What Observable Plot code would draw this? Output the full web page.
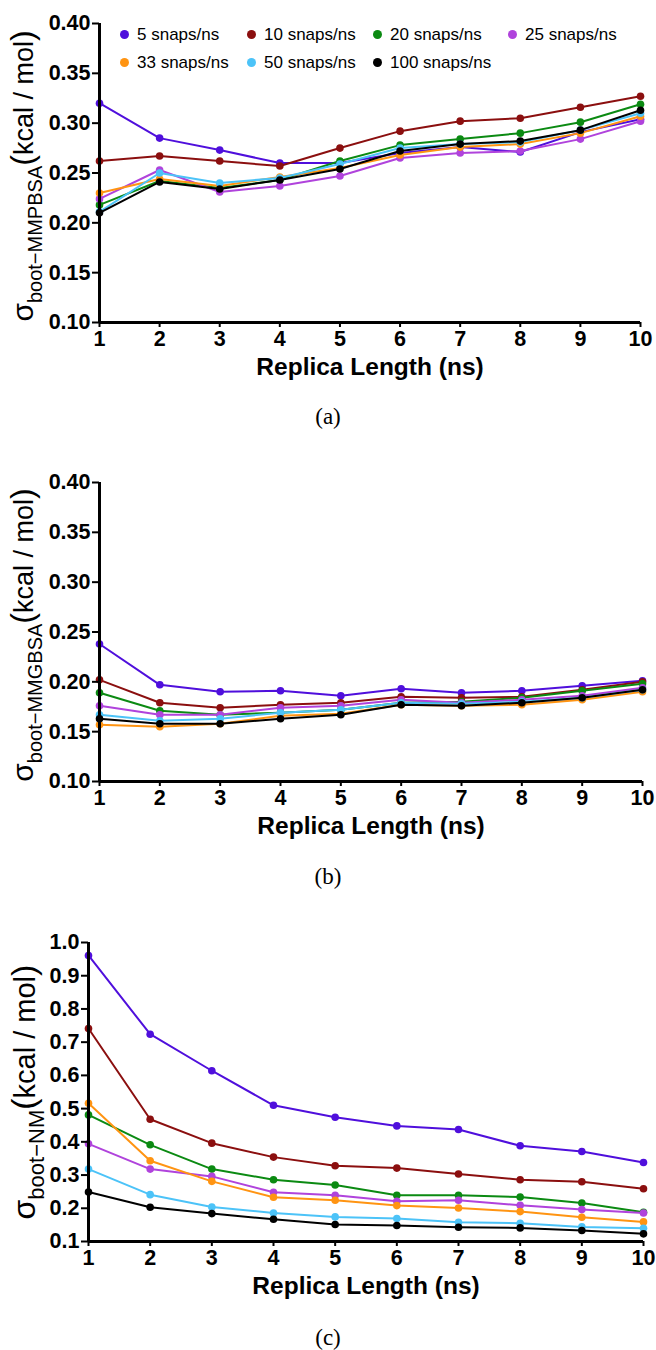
<!DOCTYPE html>
<html><head><meta charset="utf-8">
<script src="https://cdn.jsdelivr.net/npm/d3@7"></script>
<script src="https://cdn.jsdelivr.net/npm/@observablehq/plot@0.6"></script>
<style>
body{margin:0;background:#fff;}
#wrap{position:relative;width:656px;height:1350px;font-family:Arial,"Liberation Sans",Helvetica,sans-serif;background:#fff;overflow:hidden;}
.panel{position:absolute;left:0;}
.cap{position:absolute;left:0;width:656px;text-align:center;font-family:"Times New Roman","Liberation Serif",serif;font-size:23px;line-height:26px;}
.legend{position:absolute;left:120px;top:25px;display:grid;grid-template-columns:127px 126px 135px auto;row-gap:9px;font-size:17px;line-height:19px;}
.item{display:flex;align-items:center;white-space:nowrap;}
.sw{width:9px;height:9px;border-radius:50%;margin-right:8px;flex:none;}
</style></head><body><div id="wrap"></div>
<script>
// categories
const lengths = [1,2,3,4,5,6,7,8,9,10];
const seriesNames = ["5 snaps/ns","10 snaps/ns","20 snaps/ns","25 snaps/ns","33 snaps/ns","50 snaps/ns","100 snaps/ns"];
const colors = ["#4f0fdc","#8b0f0f","#0b8a12","#b043dc","#ff9412","#4cc3f8","#000000"];
const yTicksAB = [0.10,0.15,0.20,0.25,0.30,0.35,0.40];
const yTicksC = [0.1,0.2,0.3,0.4,0.5,0.6,0.7,0.8,0.9,1.0];

// (a) MMPBSA
const pbsa5   = [0.320,0.285,0.273,0.260,0.260,0.270,0.276,0.271,0.291,0.304];
const pbsa10  = [0.262,0.267,0.262,0.257,0.275,0.292,0.302,0.305,0.316,0.327];
const pbsa20  = [0.218,0.242,0.235,0.243,0.262,0.278,0.284,0.290,0.301,0.319];
const pbsa25  = [0.224,0.253,0.231,0.237,0.247,0.265,0.270,0.272,0.284,0.302];
const pbsa33  = [0.230,0.244,0.237,0.246,0.255,0.268,0.276,0.279,0.290,0.307];
const pbsa50  = [0.211,0.250,0.240,0.245,0.259,0.275,0.279,0.281,0.293,0.310];
const pbsa100 = [0.210,0.241,0.234,0.243,0.254,0.272,0.279,0.282,0.293,0.313];

// (b) MMGBSA
const gbsa5   = [0.238,0.197,0.190,0.191,0.186,0.193,0.189,0.191,0.196,0.201];
const gbsa10  = [0.202,0.179,0.174,0.177,0.179,0.185,0.184,0.185,0.192,0.200];
const gbsa20  = [0.189,0.171,0.167,0.169,0.172,0.179,0.180,0.184,0.191,0.198];
const gbsa25  = [0.176,0.167,0.167,0.174,0.176,0.182,0.179,0.182,0.186,0.194];
const gbsa33  = [0.157,0.155,0.158,0.166,0.168,0.177,0.176,0.177,0.182,0.190];
const gbsa50  = [0.167,0.161,0.163,0.169,0.172,0.179,0.178,0.180,0.184,0.192];
const gbsa100 = [0.163,0.158,0.158,0.163,0.167,0.177,0.176,0.179,0.184,0.192];

// (c) NM
const nm5   = [0.961,0.724,0.614,0.510,0.474,0.448,0.437,0.388,0.371,0.338];
const nm10  = [0.741,0.468,0.396,0.354,0.328,0.321,0.303,0.286,0.280,0.259];
const nm20  = [0.481,0.391,0.318,0.286,0.270,0.239,0.239,0.234,0.216,0.188];
const nm25  = [0.394,0.318,0.296,0.248,0.239,0.221,0.224,0.209,0.196,0.186];
const nm33  = [0.516,0.343,0.281,0.233,0.224,0.208,0.201,0.190,0.173,0.159];
const nm50  = [0.318,0.241,0.204,0.186,0.174,0.169,0.158,0.155,0.144,0.140];
const nm100 = [0.249,0.203,0.184,0.167,0.151,0.148,0.143,0.141,0.133,0.123];

const FONT = 'Arial, "Liberation Sans", Helvetica, sans-serif';

function makePanel(values, opts) {
  const marks = [];
  values.forEach((vals, i) => {
    const d = vals.map((v, j) => ({x: lengths[j], y: v, s: seriesNames[i]}));
    marks.push(Plot.line(d, {x: "x", y: "y", stroke: "s", strokeWidth: 2}));
    marks.push(Plot.dot(d, {x: "x", y: "y", fill: "s", r: 3.8}));
  });
  marks.push(Plot.ruleX([1], {strokeWidth: 3}));
  marks.push(Plot.ruleY([opts.yDomain[0]], {strokeWidth: 3}));
  marks.push(Plot.axisY({ticks: opts.yTicks, tickFormat: opts.fmt, tickSize: 7, tickPadding: 2, strokeWidth: 2, label: null}));
  marks.push(Plot.axisX({ticks: lengths, tickFormat: d3.format("d"), tickSize: 5, tickPadding: 3, strokeWidth: 2, label: null}));
  marks.push(Plot.text(["Replica Length (ns)"], {frameAnchor: "bottom", dy: 45, fontSize: 24.5, fontWeight: "bold", lineAnchor: "middle"}));
  const plot = Plot.plot({
    width: 656, height: 390,
    marginTop: 23, marginBottom: 68, marginLeft: opts.ml, marginRight: opts.mr,
    x: {domain: [1, 10]},
    y: {domain: opts.yDomain},
    color: {domain: seriesNames, range: colors},
    style: {fontFamily: FONT, fontSize: "21.5px", fontWeight: "bold", color: "#000", background: "transparent", overflow: "visible"},
    marks
  });
  // y-axis title
  const svg = d3.select(plot);
  const t = svg.append("text")
    .attr("transform", `translate(${opts.lx},${opts.ly}) rotate(-90)`)
    .attr("text-anchor", "middle")
    .attr("fill", "#000")
    .style("font-family", FONT).style("font-weight", "normal");
  t.append("tspan").attr("font-size", opts.big + 3).text("σ");
  t.append("tspan").attr("font-size", opts.sub).attr("dy", 9).text(opts.subText);
  t.append("tspan").attr("font-size", opts.big + 5).attr("dy", -9).text("(");
  t.append("tspan").attr("font-size", opts.big).text("kcal / mol");
  t.append("tspan").attr("font-size", opts.big + 5).text(")");
  plot.classList.add("panel");
  return plot;
}

const wrap = document.getElementById("wrap");
const f2 = d3.format(".2f"), f1 = d3.format(".1f");

const pa = makePanel([pbsa5,pbsa10,pbsa20,pbsa25,pbsa33,pbsa50,pbsa100],
  {yDomain: [0.10, 0.40], yTicks: yTicksAB, fmt: f2, ml: 99, mr: 16, lx: 33, ly: 176, big: 27, sub: 20, subText: "boot−MMPBSA"});
pa.style.top = "0px";
wrap.appendChild(pa);

const pb = makePanel([gbsa5,gbsa10,gbsa20,gbsa25,gbsa33,gbsa50,gbsa100],
  {yDomain: [0.10, 0.40], yTicks: yTicksAB, fmt: f2, ml: 99, mr: 14, lx: 33, ly: 176, big: 27, sub: 20, subText: "boot−MMGBSA"});
pb.style.top = "459px";
wrap.appendChild(pb);

const pc = makePanel([nm5,nm10,nm20,nm25,nm33,nm50,nm100],
  {yDomain: [0.1, 1.0], yTicks: yTicksC, fmt: f1, ml: 88, mr: 13, lx: 35, ly: 173, big: 29, sub: 22, subText: "boot−NM"});
pc.style.top = "919px";
wrap.appendChild(pc);

// captions
[["(a)", 404], ["(b)", 864], ["(c)", 1325]].forEach(([txt, top]) => {
  const c = document.createElement("div");
  c.className = "cap"; c.style.top = top + "px"; c.textContent = txt;
  wrap.appendChild(c);
});

// legend
const lg = document.createElement("div");
lg.className = "legend";
seriesNames.forEach((s, i) => {
  const it = document.createElement("div"); it.className = "item";
  const sw = document.createElement("span"); sw.className = "sw"; sw.style.background = colors[i];
  const tx = document.createElement("span"); tx.textContent = s;
  it.appendChild(sw); it.appendChild(tx); lg.appendChild(it);
});
wrap.appendChild(lg);
</script></body></html>
